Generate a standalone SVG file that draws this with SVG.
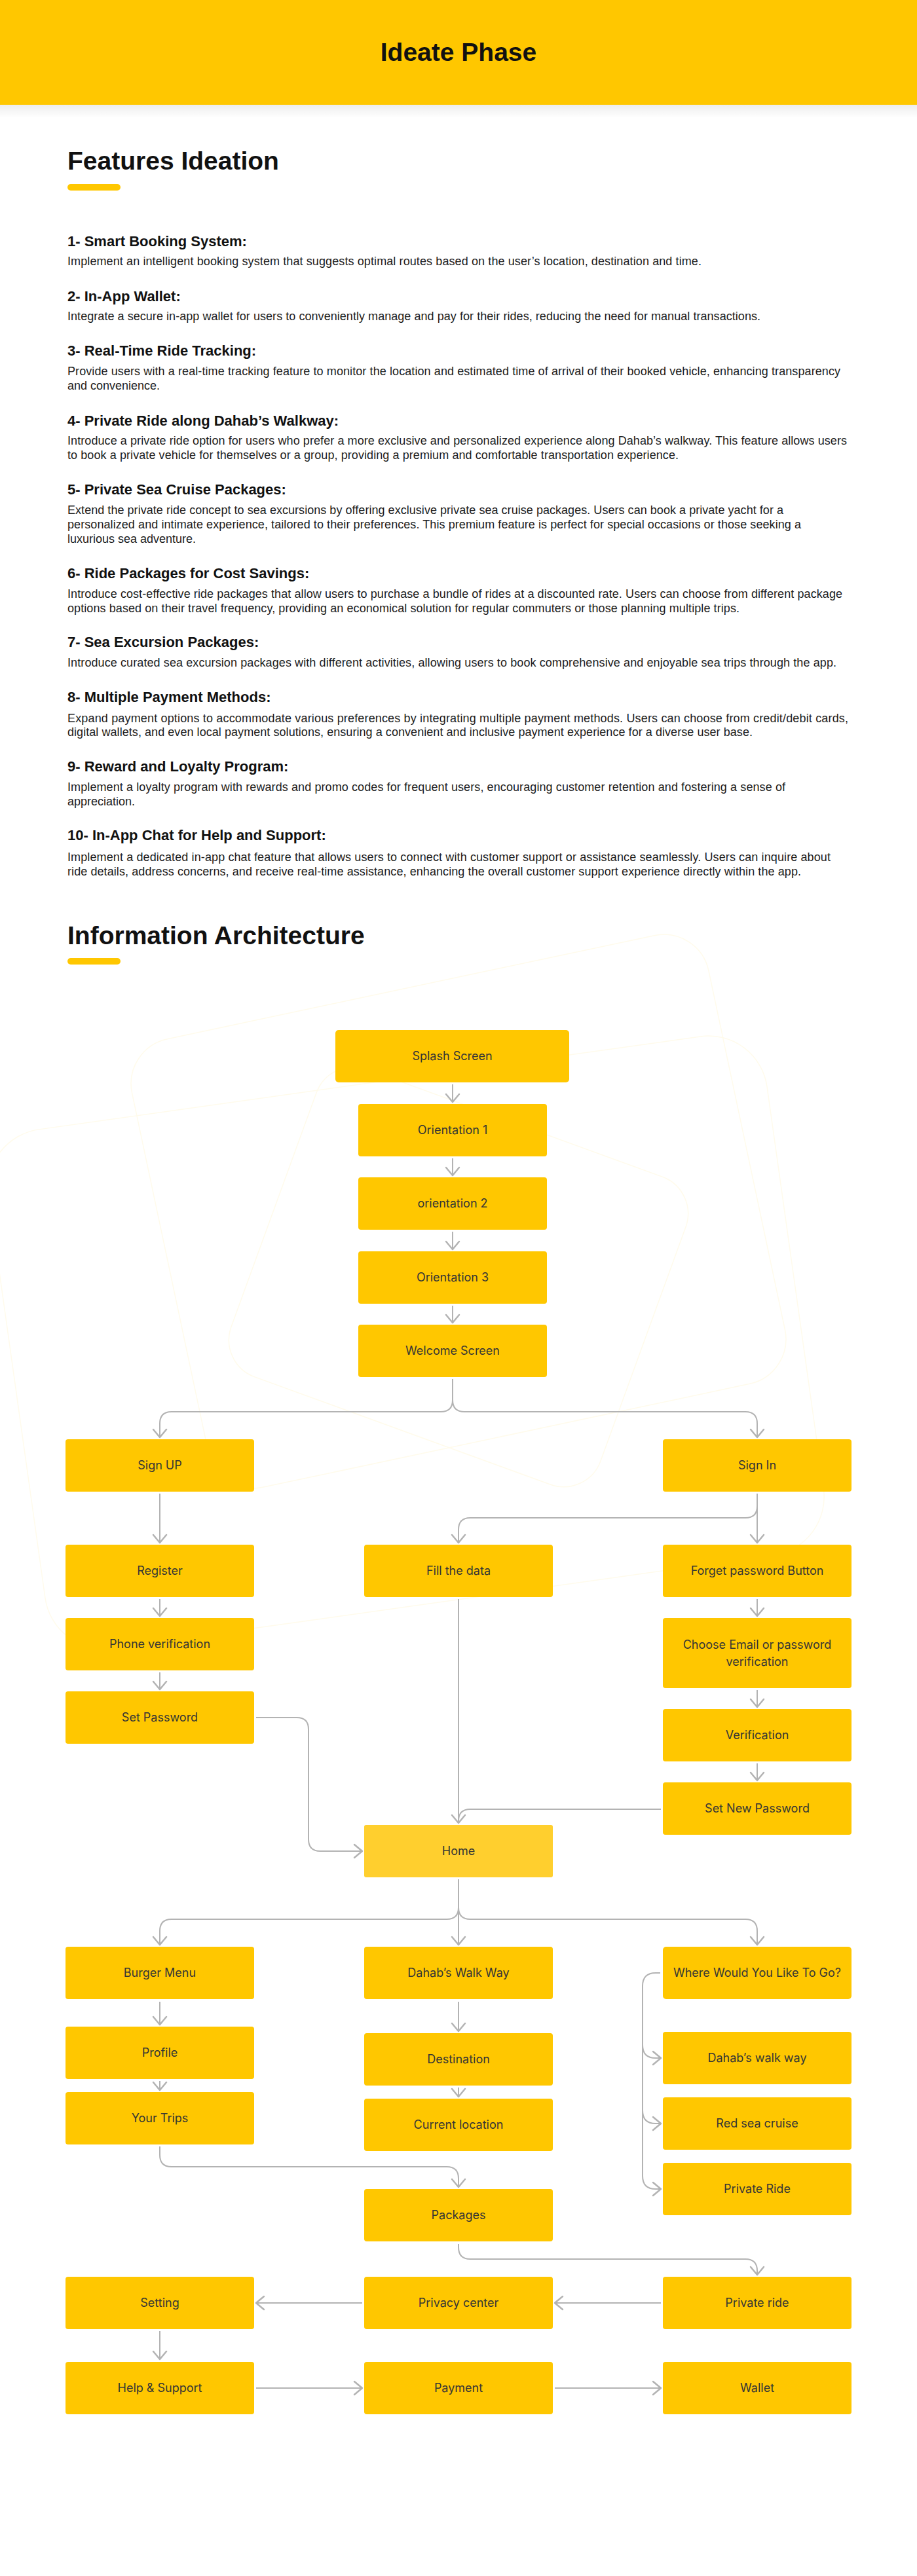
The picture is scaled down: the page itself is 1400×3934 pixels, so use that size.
<svg xmlns="http://www.w3.org/2000/svg" width="1400" height="3934" viewBox="0 0 1400 3934">
<defs>
<style>
.hd{font-family:"Liberation Sans",Arial,sans-serif;font-weight:700;fill:#111111}
.h{font-family:"Liberation Sans",Arial,sans-serif;font-weight:700;font-size:22px;fill:#111111}
.b{font-family:"Liberation Sans",Arial,sans-serif;font-size:18px;fill:#1c1c1c}
.node rect{fill:#FFC700}
.node.home rect{fill:#FFCF2E}
.lbl{font-family:Inter,"Noto Sans",sans-serif;font-size:18px;fill:#353535;text-anchor:middle}
.conn path{fill:none;stroke:#b3b3b3;stroke-width:2}
.deco{fill:none;stroke:#FFFBEC;stroke-width:1.5}
</style>
<marker id="ah" markerUnits="userSpaceOnUse" viewBox="-2 -2 16 24" refX="12" refY="10" markerWidth="16" markerHeight="24" orient="auto">
<path d="M0,0 L12,10 L0,20" fill="none" stroke="#b3b3b3" stroke-width="2.5" stroke-linecap="round" stroke-linejoin="round"/>
</marker>
<linearGradient id="shadow" x1="0" y1="0" x2="0" y2="1">
<stop offset="0" stop-color="#000" stop-opacity="0.07"/>
<stop offset="1" stop-color="#000" stop-opacity="0"/>
</linearGradient>
</defs>
<rect width="1400" height="3934" fill="#ffffff"/>

<!-- faint decorations -->
<g id="decorations">
<rect class="deco" x="250" y="1500" width="900" height="700" rx="70" transform="rotate(-12 700 1850)"/>
<rect class="deco" x="400" y="1700" width="600" height="500" rx="60" transform="rotate(20 700 1950)"/>
<rect class="deco" x="20" y="1650" width="1200" height="800" rx="90" transform="rotate(-8 620 2050)"/>
</g>

<!-- header -->
<g id="header">
<rect x="0" y="0" width="1400" height="160" fill="#FFC700"/>
<rect x="0" y="160" width="1400" height="20" fill="url(#shadow)"/>
<text class="hd" x="700" y="93" font-size="39" text-anchor="middle">Ideate Phase</text>
</g>

<!-- features -->
<g id="features">
<text class="hd" x="103" y="259" font-size="39">Features Ideation</text>
<rect x="103" y="281" width="81" height="10" rx="5" fill="#FFC700"/>

<text class="h" x="103" y="376">1- Smart Booking System:</text>
<text class="b" x="103" y="405" textLength="968">Implement an intelligent booking system that suggests optimal routes based on the user’s location, destination and time.</text>

<text class="h" x="103" y="460">2- In-App Wallet:</text>
<text class="b" x="103" y="489" textLength="1058">Integrate a secure in-app wallet for users to conveniently manage and pay for their rides, reducing the need for manual transactions.</text>

<text class="h" x="103" y="543">3- Real-Time Ride Tracking:</text>
<text class="b" x="103" y="573" textLength="1180">Provide users with a real-time tracking feature to monitor the location and estimated time of arrival of their booked vehicle, enhancing transparency</text>
<text class="b" x="103" y="595">and convenience.</text>

<text class="h" x="103" y="650">4- Private Ride along Dahab’s Walkway:</text>
<text class="b" x="103" y="679" textLength="1190">Introduce a private ride option for users who prefer a more exclusive and personalized experience along Dahab’s walkway. This feature allows users</text>
<text class="b" x="103" y="701" textLength="933">to book a private vehicle for themselves or a group, providing a premium and comfortable transportation experience.</text>

<text class="h" x="103" y="755">5- Private Sea Cruise Packages:</text>
<text class="b" x="103" y="785" textLength="1093">Extend the private ride concept to sea excursions by offering exclusive private sea cruise packages. Users can book a private yacht for a</text>
<text class="b" x="103" y="807" textLength="1120">personalized and intimate experience, tailored to their preferences. This premium feature is perfect for special occasions or those seeking a</text>
<text class="b" x="103" y="829">luxurious sea adventure.</text>

<text class="h" x="103" y="883">6- Ride Packages for Cost Savings:</text>
<text class="b" x="103" y="913" textLength="1183">Introduce cost-effective ride packages that allow users to purchase a bundle of rides at a discounted rate. Users can choose from different package</text>
<text class="b" x="103" y="935" textLength="1026">options based on their travel frequency, providing an economical solution for regular commuters or those planning multiple trips.</text>

<text class="h" x="103" y="988">7- Sea Excursion Packages:</text>
<text class="b" x="103" y="1018" textLength="1174">Introduce curated sea excursion packages with different activities, allowing users to book comprehensive and enjoyable sea trips through the app.</text>

<text class="h" x="103" y="1072">8- Multiple Payment Methods:</text>
<text class="b" x="103" y="1103" textLength="1192">Expand payment options to accommodate various preferences by integrating multiple payment methods. Users can choose from credit/debit cards,</text>
<text class="b" x="103" y="1124" textLength="1046">digital wallets, and even local payment solutions, ensuring a convenient and inclusive payment experience for a diverse user base.</text>

<text class="h" x="103" y="1178">9- Reward and Loyalty Program:</text>
<text class="b" x="103" y="1208" textLength="1096">Implement a loyalty program with rewards and promo codes for frequent users, encouraging customer retention and fostering a sense of</text>
<text class="b" x="103" y="1230">appreciation.</text>

<text class="h" x="103" y="1283">10- In-App Chat for Help and Support:</text>
<text class="b" x="103" y="1315" textLength="1165">Implement a dedicated in-app chat feature that allows users to connect with customer support or assistance seamlessly. Users can inquire about</text>
<text class="b" x="103" y="1337" textLength="1120">ride details, address concerns, and receive real-time assistance, enhancing the overall customer support experience directly within the app.</text>

<text class="hd" x="103" y="1442" font-size="39">Information Architecture</text>
<rect x="103" y="1463" width="81" height="10" rx="5" fill="#FFC700"/>
</g>

<!-- connectors -->
<g id="connectors" class="conn">
<path d="M691,1656 V1683" marker-end="url(#ah)"/>
<path d="M691,1769 V1795" marker-end="url(#ah)"/>
<path d="M691,1881 V1908" marker-end="url(#ah)"/>
<path d="M691,1994 V2020" marker-end="url(#ah)"/>
<path d="M691,2106 V2138 Q691,2156 673,2156 H262 Q244,2156 244,2174 V2195" marker-end="url(#ah)"/>
<path d="M691,2138 Q691,2156 709,2156 H1138 Q1156,2156 1156,2174 V2195" marker-end="url(#ah)"/>
<path d="M244,2281 V2356" marker-end="url(#ah)"/>
<path d="M244,2442 V2468" marker-end="url(#ah)"/>
<path d="M244,2554 V2580" marker-end="url(#ah)"/>
<path d="M1156,2281 V2356" marker-end="url(#ah)"/>
<path d="M1156,2300 Q1156,2318 1138,2318 H718 Q700,2318 700,2336 V2356" marker-end="url(#ah)"/>
<path d="M1156,2442 V2468" marker-end="url(#ah)"/>
<path d="M1156,2581 V2607" marker-end="url(#ah)"/>
<path d="M1156,2693 V2719" marker-end="url(#ah)"/>
<path d="M700,2442 V2784" marker-end="url(#ah)"/>
<path d="M1009,2763 H718 Q700,2763 700,2781"/>
<path d="M391,2623 H453 Q471,2623 471,2641 V2809 Q471,2827 489,2827 H553" marker-end="url(#ah)"/>
<path d="M700,2870 V2970" marker-end="url(#ah)"/>
<path d="M700,2913 Q700,2931 682,2931 H262 Q244,2931 244,2949 V2970" marker-end="url(#ah)"/>
<path d="M700,2913 Q700,2931 718,2931 H1138 Q1156,2931 1156,2949 V2970" marker-end="url(#ah)"/>
<path d="M244,3057 V3092" marker-end="url(#ah)"/>
<path d="M244,3178 V3192" marker-end="url(#ah)"/>
<path d="M700,3057 V3102" marker-end="url(#ah)"/>
<path d="M700,3188 V3202" marker-end="url(#ah)"/>
<path d="M1008,3013 H1001 Q981,3013 981,3033 V3323 Q981,3343 1001,3343 H1009" marker-end="url(#ah)"/>
<path d="M981,3123 Q981,3143 1001,3143 H1009" marker-end="url(#ah)"/>
<path d="M981,3223 Q981,3243 1001,3243 H1009" marker-end="url(#ah)"/>
<path d="M244,3278 V3291 Q244,3309 262,3309 H682 Q700,3309 700,3327 V3340" marker-end="url(#ah)"/>
<path d="M700,3427 V3432 Q700,3450 718,3450 H1138 Q1156,3450 1156,3468 V3474" marker-end="url(#ah)"/>
<path d="M1009,3517 H847" marker-end="url(#ah)"/>
<path d="M553,3517 H391" marker-end="url(#ah)"/>
<path d="M244,3560 V3603" marker-end="url(#ah)"/>
<path d="M391,3647 H553" marker-end="url(#ah)"/>
<path d="M847,3647 H1009" marker-end="url(#ah)"/>
</g>

<!-- nodes -->
<g id="n-splash" class="node"><rect x="512" y="1573" width="357" height="80" rx="5"/><text class="lbl" x="690.5" y="1619">Splash Screen</text></g>
<g id="n-orientation1" class="node"><rect x="547" y="1686" width="288" height="80" rx="4"/><text class="lbl" x="691" y="1732">Orientation 1</text></g>
<g id="n-orientation2" class="node"><rect x="547" y="1798" width="288" height="80" rx="4"/><text class="lbl" x="691" y="1844">orientation 2</text></g>
<g id="n-orientation3" class="node"><rect x="547" y="1911" width="288" height="80" rx="4"/><text class="lbl" x="691" y="1957">Orientation 3</text></g>
<g id="n-welcome" class="node"><rect x="547" y="2023" width="288" height="80" rx="4"/><text class="lbl" x="691" y="2069">Welcome Screen</text></g>

<g id="n-signup" class="node"><rect x="100" y="2198" width="288" height="80" rx="4"/><text class="lbl" x="244" y="2244">Sign UP</text></g>
<g id="n-signin" class="node"><rect x="1012" y="2198" width="288" height="80" rx="4"/><text class="lbl" x="1156" y="2244">Sign In</text></g>
<g id="n-register" class="node"><rect x="100" y="2359" width="288" height="80" rx="4"/><text class="lbl" x="244" y="2405">Register</text></g>
<g id="n-filldata" class="node"><rect x="556" y="2359" width="288" height="80" rx="4"/><text class="lbl" x="700" y="2405">Fill the data</text></g>
<g id="n-forget" class="node"><rect x="1012" y="2359" width="288" height="80" rx="4"/><text class="lbl" x="1156" y="2405">Forget password Button</text></g>
<g id="n-phone" class="node"><rect x="100" y="2471" width="288" height="80" rx="4"/><text class="lbl" x="244" y="2517">Phone verification</text></g>
<g id="n-choose" class="node"><rect x="1012" y="2471" width="288" height="107" rx="4"/><text class="lbl" x="1156" y="2518">Choose Email or password</text><text class="lbl" x="1156" y="2544">verification</text></g>
<g id="n-setpassword" class="node"><rect x="100" y="2583" width="288" height="80" rx="4"/><text class="lbl" x="244" y="2629">Set Password</text></g>
<g id="n-verification" class="node"><rect x="1012" y="2610" width="288" height="80" rx="4"/><text class="lbl" x="1156" y="2656">Verification</text></g>
<g id="n-setnewpassword" class="node"><rect x="1012" y="2722" width="288" height="80" rx="4"/><text class="lbl" x="1156" y="2768">Set New Password</text></g>
<g id="n-home" class="node home"><rect x="556" y="2787" width="288" height="80" rx="3"/><text class="lbl" x="700" y="2833">Home</text></g>

<g id="n-burger" class="node"><rect x="100" y="2973" width="288" height="80" rx="4"/><text class="lbl" x="244" y="3019">Burger Menu</text></g>
<g id="n-dahabwalkway" class="node"><rect x="556" y="2973" width="288" height="80" rx="4"/><text class="lbl" x="700" y="3019">Dahab’s Walk Way</text></g>
<g id="n-where" class="node"><rect x="1012" y="2973" width="288" height="80" rx="5"/><text class="lbl" x="1156" y="3019">Where Would You Like To Go?</text></g>
<g id="n-profile" class="node"><rect x="100" y="3095" width="288" height="80" rx="4"/><text class="lbl" x="244" y="3141">Profile</text></g>
<g id="n-destination" class="node"><rect x="556" y="3105" width="288" height="80" rx="4"/><text class="lbl" x="700" y="3151">Destination</text></g>
<g id="n-dahabwalkway2" class="node"><rect x="1012" y="3103" width="288" height="80" rx="4"/><text class="lbl" x="1156" y="3149">Dahab’s walk way</text></g>
<g id="n-yourtrips" class="node"><rect x="100" y="3195" width="288" height="80" rx="4"/><text class="lbl" x="244" y="3241">Your Trips</text></g>
<g id="n-currentlocation" class="node"><rect x="556" y="3205" width="288" height="80" rx="4"/><text class="lbl" x="700" y="3251">Current location</text></g>
<g id="n-redsea" class="node"><rect x="1012" y="3203" width="288" height="80" rx="4"/><text class="lbl" x="1156" y="3249">Red sea cruise</text></g>
<g id="n-privateride" class="node"><rect x="1012" y="3303" width="288" height="80" rx="4"/><text class="lbl" x="1156" y="3349">Private Ride</text></g>
<g id="n-packages" class="node"><rect x="556" y="3343" width="288" height="80" rx="4"/><text class="lbl" x="700" y="3389">Packages</text></g>

<g id="n-setting" class="node"><rect x="100" y="3477" width="288" height="80" rx="4"/><text class="lbl" x="244" y="3523">Setting</text></g>
<g id="n-privacy" class="node"><rect x="556" y="3477" width="288" height="80" rx="4"/><text class="lbl" x="700" y="3523">Privacy center</text></g>
<g id="n-privateride2" class="node"><rect x="1012" y="3477" width="288" height="80" rx="4"/><text class="lbl" x="1156" y="3523">Private ride</text></g>
<g id="n-help" class="node"><rect x="100" y="3607" width="288" height="80" rx="4"/><text class="lbl" x="244" y="3653">Help &amp; Support</text></g>
<g id="n-payment" class="node"><rect x="556" y="3607" width="288" height="80" rx="4"/><text class="lbl" x="700" y="3653">Payment</text></g>
<g id="n-wallet" class="node"><rect x="1012" y="3607" width="288" height="80" rx="4"/><text class="lbl" x="1156" y="3653">Wallet</text></g>
</svg>
